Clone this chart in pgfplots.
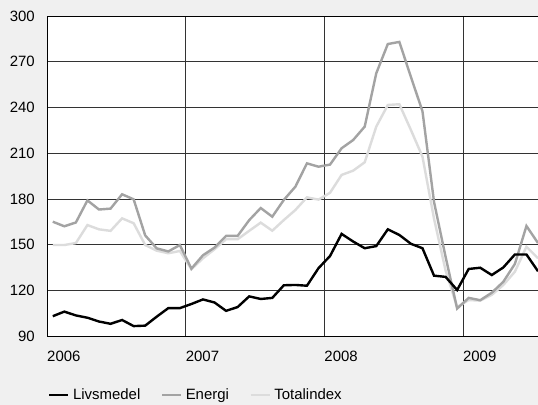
\documentclass[border=0pt]{standalone}
\usepackage{fontspec}
\setmainfont{Liberation Sans}
\usepackage{pgfplots}
\pgfplotsset{compat=1.18}
\usetikzlibrary{backgrounds,calc}
\definecolor{panel}{HTML}{F0F0F0}
\definecolor{energi}{HTML}{A3A3A3}
\definecolor{total}{HTML}{DCDCDC}

% months since Jan 2006, plotted at mid-month
\pgfplotstableread{
m     liv    ene    tot
0.5   103.0  165.0  149.7
1.5   106.0  162.0  149.7
2.5   103.5  164.5  151.0
3.5   102.0  179.0  162.8
4.5   99.5   173.0  160.0
5.5   98.0   173.6  159.0
6.5   100.5  183.0  167.2
7.5   96.5   179.7  164.0
8.5   96.8   156.0  149.7
9.5   102.7  147.5  146.0
10.5  108.3  145.5  144.3
11.5  108.3  149.7  145.8
12.5  111.0  134.2  133.8
13.5  114.0  143.0  141.0
14.5  112.0  148.0  146.9
15.5  106.5  155.7  153.5
16.5  109.0  155.7  153.5
17.5  116.0  166.0  159.0
18.5  114.3  174.0  164.4
19.5  115.0  168.3  159.1
20.5  123.3  179.3  166.1
21.5  123.5  188.0  172.7
22.5  123.0  203.3  181.0
23.5  134.5  201.1  179.5
24.5  142.5  202.5  184.0
25.5  157.0  213.2  195.7
26.5  152.0  218.6  198.5
27.5  147.6  227.4  204.0
28.5  149.0  262.4  227.4
29.5  160.0  281.6  241.6
30.5  156.3  283.0  242.1
31.5  150.5  260.0  225.2
32.5  147.6  237.5  207.7
33.5  129.6  178.0  167.0
34.5  128.8  142.0  133.0
35.5  120.2  108.0  109.0
36.5  134.0  115.0  113.6
37.5  134.8  113.5  113.2
38.5  130.0  118.4  117.0
39.5  135.0  125.6  123.5
40.5  143.5  137.3  132.2
41.5  143.5  162.2  148.6
42.5  132.5  151.0  141.0
}\kpi

\begin{document}
\begin{tikzpicture}[font=\fontsize{15}{18}\selectfont]
\begin{axis}[
    name=ax,
    scale only axis,
    width=491bp, height=320bp,
    xmin=0, xmax=42.5,
    ymin=90, ymax=300,
    ytick={90,120,...,300},
    xtick={0,12,24,36},
    xticklabels={2006,2007,2008,2009},
    major tick length=0pt,
    xmajorgrids, ymajorgrids,
    grid style={black!80, line width=0.7bp},
    axis line style={draw=none},
    axis background/.style={fill=white},
    /pgf/number format/assume math mode=true,
    yticklabel style={anchor=east, inner sep=0pt, xshift=-12bp},
    xticklabel style={anchor=north west, inner sep=0pt, yshift=-15bp},
    legend columns=-1,
    reverse legend,
    legend image code/.code={\draw[#1] (0bp,0bp) -- (19bp,0bp);},
    legend style={at={(axis description cs:0,-0.184)}, anchor=west, xshift=1bp,
        draw=none, fill=none, inner sep=0pt,
        nodes={inner xsep=3.5bp, inner ysep=0pt},
        /tikz/every even column/.append style={column sep=17bp}},
    after end axis/.code={
        \draw[black, line width=0.9bp] (rel axis cs:1,1) -- (rel axis cs:0,1)
            -- (rel axis cs:0,0) -- (rel axis cs:1,0);
    },
]
\addplot[total, line width=2.4bp] table[x=m, y=tot] {\kpi};
\addlegendentry{Totalindex}
\addplot[energi, line width=2.4bp] table[x=m, y=ene] {\kpi};
\addlegendentry{Energi}
\addplot[black, line width=2.4bp] table[x=m, y=liv] {\kpi};
\addlegendentry{Livsmedel}
\end{axis}
\begin{pgfonlayer}{background}
\fill[panel] ($(ax.south west)+(-47bp,-69bp)$) rectangle ($(ax.north east)+(0,16bp)$);
\end{pgfonlayer}
\pgfresetboundingbox
\path ($(ax.south west)+(-47bp,-69bp)$) rectangle ($(ax.north east)+(0,16bp)$);
\end{tikzpicture}
\end{document}
